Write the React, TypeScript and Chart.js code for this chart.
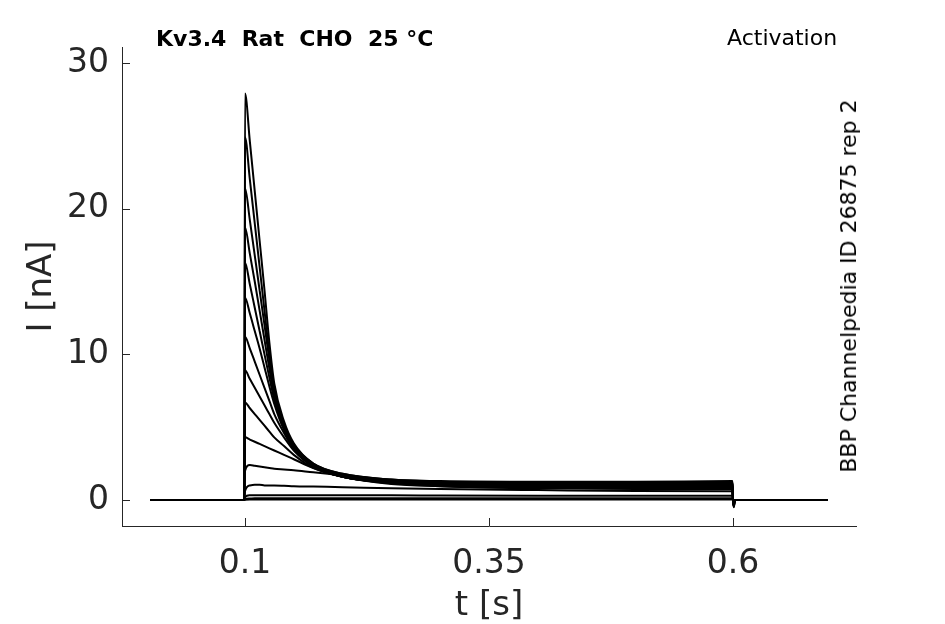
// App.tsx
import { useEffect, useRef } from 'react';
import Chart from 'chart.js/auto';

// Sample times [s] shared by every sweep
const times = [0.003, 0.0995, 0.1, 0.105, 0.11, 0.115, 0.12, 0.125, 0.13, 0.14, 0.15, 0.17, 0.2, 0.25, 0.3, 0.4, 0.5, 0.5995, 0.6, 0.6008, 0.602, 0.697];

// Current [nA] of each sweep (largest first)
const sweep1 = [0, 0, 27.9, 24.6, 21.2, 17.8, 14.4, 10.8, 8.0, 5.4, 3.9, 2.5, 1.8, 1.4, 1.3, 1.25, 1.25, 1.3, 0, -0.5, 0, 0];
const sweep2 = [0, 0, 24.9, 22.0, 19.0, 16.0, 13.0, 10.0, 7.6, 5.2, 3.8, 2.5, 1.8, 1.4, 1.25, 1.2, 1.2, 1.2, 0, -0.45, 0, 0];
const sweep3 = [0, 0, 21.4, 19.2, 16.8, 14.4, 12.0, 9.6, 7.4, 5.1, 3.7, 2.4, 1.7, 1.35, 1.2, 1.15, 1.15, 1.15, 0, -0.4, 0, 0];
const sweep4 = [0, 0, 18.7, 16.9, 15.0, 13.0, 11.0, 9.0, 7.2, 5.0, 3.7, 2.4, 1.7, 1.3, 1.15, 1.1, 1.1, 1.1, 0, -0.4, 0, 0];
const sweep5 = [0, 0, 16.3, 14.8, 13.2, 11.6, 10.0, 8.4, 6.9, 4.9, 3.6, 2.3, 1.6, 1.25, 1.1, 1.05, 1.0, 1.0, 0, -0.35, 0, 0];
const sweep6 = [0, 0, 13.9, 12.8, 11.6, 10.4, 9.1, 7.8, 6.6, 4.8, 3.6, 2.3, 1.6, 1.2, 1.05, 1.0, 0.95, 0.95, 0, -0.3, 0, 0];
const sweep7 = [0, 0, 11.2, 10.4, 9.5, 8.6, 7.7, 6.8, 5.9, 4.6, 3.5, 2.3, 1.6, 1.2, 1.0, 0.95, 0.9, 0.9, 0, -0.3, 0, 0];
const sweep8 = [0, 0, 8.9, 8.3, 7.7, 7.1, 6.5, 5.9, 5.3, 4.3, 3.4, 2.3, 1.6, 1.15, 1.0, 0.9, 0.85, 0.85, 0, -0.25, 0, 0];
const sweep9 = [0, 0, 6.7, 6.3, 5.9, 5.5, 5.1, 4.7, 4.3, 3.7, 3.1, 2.2, 1.6, 1.15, 0.95, 0.85, 0.8, 0.8, 0, -0.2, 0, 0];
const sweep10 = [0, 0, 4.3, 4.15, 4.0, 3.85, 3.7, 3.55, 3.4, 3.1, 2.8, 2.2, 1.6, 1.1, 0.95, 0.8, 0.75, 0.75, 0, -0.2, 0, 0];
const sweep11 = [0, 0, 2.0, 2.4, 2.35, 2.3, 2.25, 2.2, 2.15, 2.1, 2.05, 1.9, 1.7, 1.35, 1.1, 0.9, 0.8, 0.75, 0, -0.15, 0, 0];
const sweep12 = [0, 0, 0.6, 1.0, 1.05, 1.05, 1.0, 1.0, 1.0, 0.98, 0.95, 0.92, 0.88, 0.8, 0.75, 0.68, 0.62, 0.6, 0, -0.1, 0, 0];
const sweep13 = [0, 0, 0.2, 0.32, 0.33, 0.33, 0.33, 0.33, 0.33, 0.33, 0.33, 0.33, 0.32, 0.32, 0.31, 0.3, 0.3, 0.3, 0, -0.05, 0, 0];
const sweep14 = [0, 0, 0.05, 0.1, 0.12, 0.12, 0.12, 0.12, 0.12, 0.12, 0.12, 0.12, 0.12, 0.12, 0.12, 0.12, 0.12, 0.12, 0, 0, 0, 0];
const sweep15 = [0, 0, 0.02, 0.03, 0.03, 0.03, 0.03, 0.03, 0.03, 0.03, 0.03, 0.03, 0.03, 0.03, 0.03, 0.03, 0.03, 0.03, 0, 0, 0, 0];

const sweeps = [sweep1, sweep2, sweep3, sweep4, sweep5, sweep6, sweep7, sweep8, sweep9, sweep10, sweep11, sweep12, sweep13, sweep14, sweep15];

const xTicks = [0.1, 0.35, 0.6];
const xTickLabels = ['0.1', '0.35', '0.6'];
const yTicks = [0, 10, 20, 30];

const FONT = "'DejaVu Sans', sans-serif";
const AXIS_COLOR = '#262626';

// matlab style ticks, drawn inside the axes
const inwardTicks = {
  id: 'inwardTicks',
  afterDraw(chart: any) {
    const { ctx, chartArea, scales } = chart;
    ctx.save();
    ctx.strokeStyle = AXIS_COLOR;
    ctx.lineWidth = 1;
    ctx.beginPath();
    xTicks.forEach(v => {
      const px = Math.round(scales.x.getPixelForValue(v)) + 0.5;
      ctx.moveTo(px, chartArea.bottom);
      ctx.lineTo(px, chartArea.bottom - 8);
    });
    yTicks.forEach(v => {
      const py = Math.round(scales.y.getPixelForValue(v)) + 0.5;
      ctx.moveTo(chartArea.left, py);
      ctx.lineTo(chartArea.left + 8, py);
    });
    ctx.stroke();
    ctx.restore();
  }
};

export default function App() {
  const canvasRef = useRef<HTMLCanvasElement>(null);

  useEffect(() => {
    if (!canvasRef.current) return;

    const chart = new Chart(canvasRef.current, {
      type: 'line',
      data: {
        datasets: sweeps.map((sweep, i) => ({
          label: `sweep ${i + 1}`,
          data: sweep.map((v, j) => ({ x: times[j], y: v })),
          borderColor: '#000',
          borderWidth: 2,
          pointRadius: 0,
          cubicInterpolationMode: 'monotone' as const,
          fill: false
        }))
      },
      options: {
        animation: false,
        responsive: true,
        maintainAspectRatio: false,
        layout: { padding: { top: 47, right: 89, left: 0, bottom: 0 } },
        plugins: {
          legend: { display: false },
          tooltip: { enabled: false }
        },
        scales: {
          x: {
            type: 'linear',
            min: -0.026,
            max: 0.726,
            afterBuildTicks: (scale: any) => {
              scale.ticks = xTicks.map(value => ({ value }));
            },
            afterFit: (scale: any) => {
              scale.height = 98;
            },
            grid: { display: false, drawTicks: false },
            border: { display: true, color: AXIS_COLOR, width: 1 },
            ticks: {
              color: AXIS_COLOR,
              font: { family: FONT, size: 33 },
              padding: 19,
              maxRotation: 0,
              callback: (value: any) => {
                const idx = xTicks.indexOf(Number(value));
                return idx >= 0 ? xTickLabels[idx] : '';
              }
            },
            title: {
              display: true,
              text: 't [s]',
              color: AXIS_COLOR,
              font: { family: FONT, size: 34 },
              padding: { top: 0, bottom: -3 }
            }
          },
          y: {
            type: 'linear',
            min: -1.785,
            max: 31.1,
            afterBuildTicks: (scale: any) => {
              scale.ticks = yTicks.map(value => ({ value }));
            },
            afterFit: (scale: any) => {
              scale.width = 122;
            },
            grid: { display: false, drawTicks: false },
            border: { display: true, color: AXIS_COLOR, width: 1 },
            ticks: {
              color: AXIS_COLOR,
              font: { family: FONT, size: 33 },
              padding: 13
            },
            title: {
              display: true,
              text: 'I [nA]',
              color: AXIS_COLOR,
              font: { family: FONT, size: 34 },
              padding: { top: 22, bottom: 0 }
            }
          }
        }
      },
      plugins: [inwardTicks]
    });

    return () => {
      chart.destroy();
    };
  }, []);

  return (
    <div style={{ position: 'absolute', left: 0, top: 0, width: 945, height: 624, background: '#fff', fontFamily: FONT }}>
      <canvas ref={canvasRef}></canvas>
      <div style={{ position: 'absolute', left: 156, top: 27, fontSize: 22, lineHeight: '24px', fontWeight: 'bold', color: '#000', whiteSpace: 'pre' }}>
        {'Kv3.4  Rat  CHO  25 °C'}
      </div>
      <div style={{ position: 'absolute', left: 727, top: 26, fontSize: 22, lineHeight: '24px', color: '#000', whiteSpace: 'pre' }}>
        Activation
      </div>
      <div style={{ position: 'absolute', left: 849, top: 286, fontSize: 22, lineHeight: '24px', color: '#000', whiteSpace: 'pre', transform: 'translate(-50%, -50%) rotate(-90deg)' }}>
        BBP Channelpedia ID 26875 rep 2
      </div>
    </div>
  );
}
